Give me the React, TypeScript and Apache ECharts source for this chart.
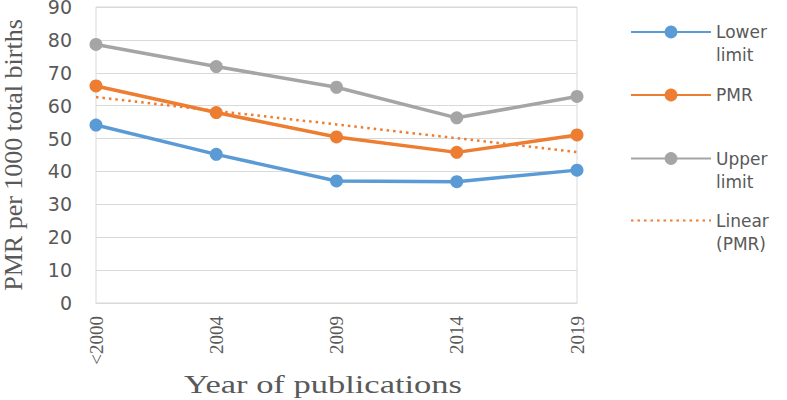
import React, { useEffect, useRef } from "react";
import * as echarts from "echarts";

const categories = ["<2000", "2004", "2009", "2014", "2019"];
const lowerLimit = [54.1, 45.2, 37.1, 36.9, 40.4];
const pmr = [66.0, 57.9, 50.5, 45.8, 51.1];
const upperLimit = [78.6, 71.9, 65.6, 56.3, 62.8];
const linearPmr = [62.6, 58.4, 54.3, 50.1, 45.9];
const yTicks = { min: 0, max: 90, interval: 10 };
const xTitle = "Year of publications";
const yTitle = "PMR per 1000 total births";

const BLUE = "#5B9BD5";
const ORANGE = "#ED7D31";
const GRAY = "#A5A5A5";
const TXT = "#595959";
const SANS = "'DejaVu Sans', 'Noto Sans', sans-serif";
const SERIF = "'Liberation Serif', 'DejaVu Serif', serif";

export default function App() {
  const ref = useRef<HTMLDivElement>(null);
  useEffect(() => {
    if (!ref.current) return;
    const chart = echarts.init(ref.current, undefined, { renderer: "svg" });
    const labelMap: Record<string, string> = {
      "Lower limit": " \nLower\nlimit",
      "Upper limit": " \nUpper\nlimit",
      "Linear (PMR)": " \nLinear\n(PMR)",
      PMR: "PMR",
    };
    const mkLegend = (item: any, top: number) => ({
      orient: "vertical",
      left: 630,
      top,
      padding: 0,
      itemWidth: 80,
      itemHeight: 16,
      itemGap: 5,
      data: [item],
      formatter: (n: string) => labelMap[n] ?? n,
      textStyle: { color: TXT, fontFamily: SANS, fontSize: 17, lineHeight: 23 },
      selectedMode: false,
    });
    chart.setOption({
      animation: false,
      grid: {
        left: 96,
        right: 210,
        top: 7,
        bottom: 97,
        show: true,
        borderColor: "#D9D9D9",
        borderWidth: 1,
        containLabel: false,
        outerBoundsMode: "none",
      },
      legend: [
        mkLegend("Lower limit", -2.5),
        mkLegend("PMR", 83.5),
        mkLegend("Upper limit", 124),
        mkLegend({ name: "Linear (PMR)", itemStyle: { opacity: 0 } }, 186),
      ],
      graphic: [
        {
          type: "text",
          x: 323,
          y: 385,
          scaleX: 1.38,
          style: {
            text: xTitle,
            fill: TXT,
            font: `25px ${SERIF}`,
            textAlign: "center",
            textVerticalAlign: "middle",
          },
        },
      ],
      xAxis: {
        type: "category",
        data: categories,
        boundaryGap: false,
        axisLine: { lineStyle: { color: "#D9D9D9" } },
        axisTick: { show: false },
        axisLabel: { rotate: 90, color: TXT, fontFamily: SERIF, fontSize: 19, margin: 13 },
      },
      yAxis: {
        type: "value",
        min: yTicks.min,
        max: yTicks.max,
        interval: yTicks.interval,
        axisLine: { show: false },
        axisTick: { show: false },
        splitLine: { lineStyle: { color: "#D9D9D9" } },
        axisLabel: { color: TXT, fontFamily: SANS, fontSize: 19, margin: 24 },
        name: yTitle,
        nameLocation: "middle",
        nameGap: 70,
        nameTextStyle: { color: TXT, fontFamily: SERIF, fontSize: 26 },
      },
      series: [
        {
          name: "Lower limit",
          type: "line",
          data: lowerLimit,
          color: BLUE,
          symbol: "circle",
          symbolSize: 13,
          lineStyle: { width: 3.5 },
        },
        {
          name: "PMR",
          type: "line",
          data: pmr,
          color: ORANGE,
          symbol: "circle",
          symbolSize: 13,
          lineStyle: { width: 3.5 },
        },
        {
          name: "Upper limit",
          type: "line",
          data: upperLimit,
          color: GRAY,
          symbol: "circle",
          symbolSize: 13,
          lineStyle: { width: 3.5 },
        },
        {
          name: "Linear (PMR)",
          type: "line",
          data: linearPmr,
          color: ORANGE,
          symbol: "none",
          lineStyle: { width: 2.5, type: [2.5, 4] },
        },
      ],
    });
    return () => chart.dispose();
  }, []);
  return <div ref={ref} style={{ width: 787, height: 400, position: "absolute", left: 0, top: 0 }} />;
}
